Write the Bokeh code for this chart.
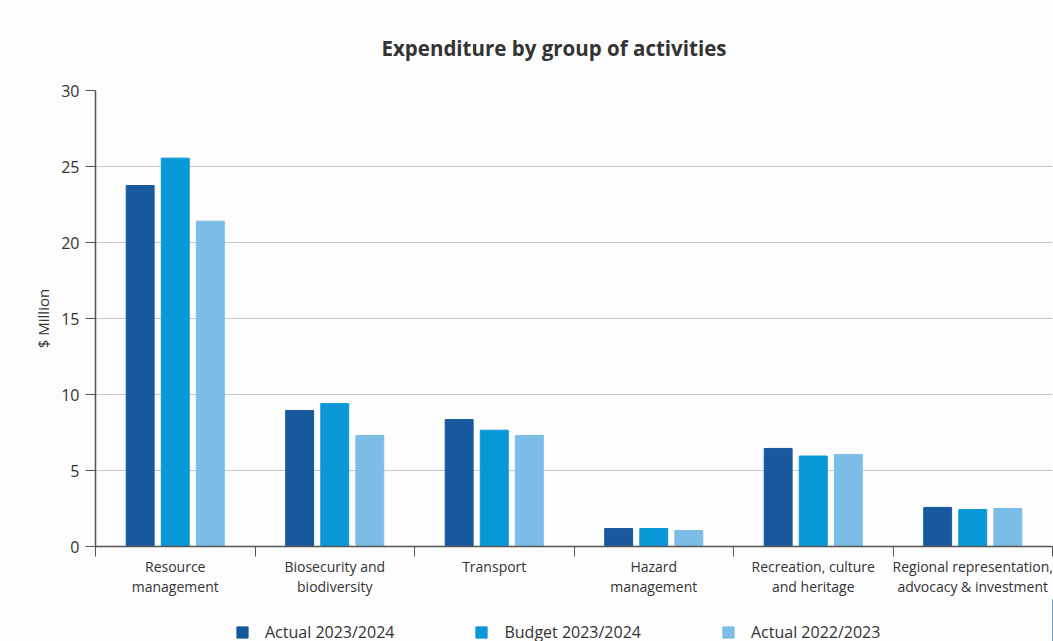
from bokeh.plotting import figure
from bokeh.layouts import column
from bokeh.models import FixedTicker, Range1d, Legend, LegendItem
from bokeh.embed import file_html
from bokeh.resources import INLINE

categories = ["Resource\nmanagement", "Biosecurity and\nbiodiversity", "Transport",
              "Hazard\nmanagement", "Recreation, culture\nand heritage",
              "Regional representation,\nadvocacy & investment"]
actual_2324 = [23.75, 8.95, 8.35, 1.18, 6.45, 2.57]
budget_2324 = [25.55, 9.4, 7.65, 1.18, 5.95, 2.43]
actual_2223 = [21.4, 7.3, 7.3, 1.05, 6.05, 2.5]
series_names = ["Actual 2023/2024", "Budget 2023/2024", "Actual 2022/2023"]
colors = ["#17599c", "#0898d8", "#7cbde7"]
y_ticks = [0, 5, 10, 15, 20, 25, 30]

FONT = "Open Sans"
BG = "#fdfdfd"
n = len(categories)

p = figure(frame_width=957, frame_height=456, output_backend="svg", toolbar_location=None,
           x_range=Range1d(0, n), y_range=Range1d(0, 30),
           min_border_left=95, min_border_right=1, min_border_top=90, min_border_bottom=49,
           background_fill_color=BG, border_fill_color=BG)
p.outline_line_color = None

p.title.text = "Expenditure by group of activities"
p.title.align = "left"
p.title.offset = 286
p.title.text_font = FONT
p.title.text_font_size = "20.5px"
p.title.text_font_style = "bold"
p.title.text_color = "#333333"
p.title.standoff = 58

offsets = [-0.22, 0.0, 0.22]
series = [actual_2324, budget_2324, actual_2223]
for vals, off, col in zip(series, offsets, colors):
    xs = [i + 0.5 + off for i in range(n)]
    p.vbar(x=xs, top=vals, width=0.175, color=col, line_color=col)

# x axis: labels at centers, boundary ticks as minor ticks
xa = p.xaxis[0]
xa.ticker = FixedTicker(ticks=[i + 0.5 for i in range(n)], minor_ticks=list(range(n + 1)))
xa.major_label_overrides = {i + 0.5: c for i, c in enumerate(categories)}
xa.major_tick_out = 0
xa.major_tick_in = 0
xa.minor_tick_out = 10
xa.minor_tick_in = 0
xa.minor_tick_line_color = "#555555"
xa.axis_line_color = "#555555"
xa.axis_line_width = 1.5
xa.major_label_text_font = FONT
xa.major_label_text_font_size = "14px"
xa.major_label_text_color = "#333333"
xa.major_label_text_line_height = 1.1
xa.major_label_standoff = 0

ya = p.yaxis[0]
ya.ticker = FixedTicker(ticks=y_ticks)
ya.axis_label = "$ Million"
ya.axis_label_text_font = FONT
ya.axis_label_text_font_size = "15px"
ya.axis_label_text_font_style = "normal"
ya.axis_label_text_color = "#333333"
ya.major_tick_out = 10
ya.major_tick_in = 0
ya.minor_tick_line_color = None
ya.major_tick_line_color = "#555555"
ya.axis_line_color = "#555555"
ya.axis_line_width = 1.5
ya.major_label_text_font = FONT
ya.major_label_text_font_size = "16px"
ya.major_label_text_color = "#333333"
ya.major_label_standoff = 6

p.xgrid.grid_line_color = None
p.ygrid.grid_line_color = "#c8c8c8"
p.ygrid.grid_line_width = 1

# legend strip as a separate small figure below the chart
p2 = figure(width=1053, height=46, output_backend="svg", toolbar_location=None,
            x_range=Range1d(0, 1), y_range=Range1d(0, 1),
            x_axis_location=None, y_axis_location=None,
            min_border=0, background_fill_color=BG, border_fill_color=BG)
p2.outline_line_color = None
p2.xgrid.grid_line_color = None
p2.ygrid.grid_line_color = None

legend_renderers = []
for vals, col in zip(series, colors):
    # helper bar kept outside the visible range; only its legend swatch is seen
    r = p2.vbar(x=[n], top=[vals[0]], width=0.1, color=col, line_color=col)
    legend_renderers.append(r)

legend = Legend(items=[LegendItem(label=nm, renderers=[r]) for nm, r in zip(series_names, legend_renderers)],
                orientation="horizontal", location=(140, 2))
legend.label_text_font = FONT
legend.label_text_font_size = "16px"
legend.label_text_color = "#333333"
legend.glyph_width = 14
legend.glyph_height = 14
legend.label_standoff = 16
legend.spacing = 80
legend.border_line_color = None
legend.background_fill_alpha = 0
legend.padding = 0
legend.margin = 0
p2.add_layout(legend, "center")

layout = column(p, p2, spacing=0)
open("out.html", "w").write(file_html(layout, INLINE))
